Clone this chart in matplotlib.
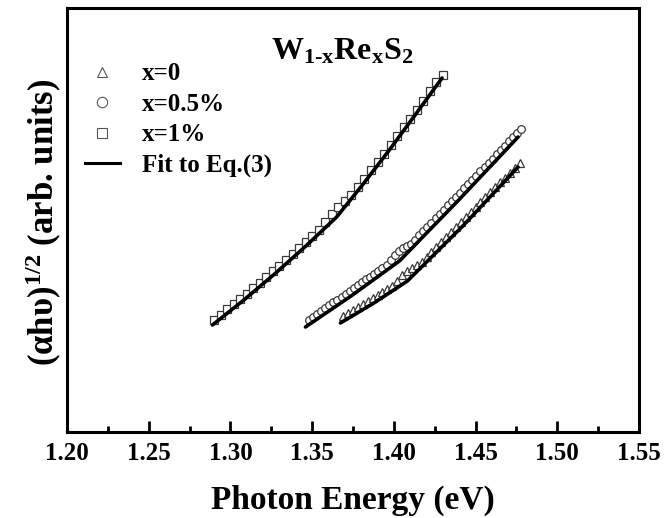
import numpy as np
import matplotlib
matplotlib.use('Agg')
import matplotlib.pyplot as plt
from matplotlib.lines import Line2D
from matplotlib.ticker import MultipleLocator, FormatStrFormatter

plt.rcParams['font.family'] = ['Liberation Serif', 'DejaVu Serif']
plt.rcParams['font.weight'] = 'bold'
plt.rcParams['mathtext.fontset'] = 'custom'
plt.rcParams['mathtext.rm'] = 'Liberation Serif:bold'
plt.rcParams['mathtext.bf'] = 'Liberation Serif:bold'
plt.rcParams['mathtext.it'] = 'Liberation Serif:bold'

# x = 1% (squares)
E_sq = [1.290, 1.294, 1.298, 1.302, 1.306, 1.310, 1.314, 1.318, 1.322, 1.326,
        1.330, 1.334, 1.338, 1.342, 1.346, 1.350, 1.354, 1.358, 1.362, 1.366,
        1.370, 1.374, 1.378, 1.382, 1.386, 1.390, 1.394, 1.398, 1.402, 1.406,
        1.410, 1.414, 1.418, 1.422, 1.426, 1.430]
y_sq = [1.122, 1.174, 1.226, 1.278, 1.331, 1.384, 1.439, 1.494, 1.550, 1.606,
        1.663, 1.720, 1.779, 1.838, 1.897, 1.958, 2.019, 2.101, 2.183, 2.250,
        2.309, 2.370, 2.451, 2.533, 2.616, 2.700, 2.785, 2.871, 2.958, 3.046,
        3.135, 3.224, 3.314, 3.406, 3.499, 3.570]

# x = 0.5% (circles)
E_ci = [1.3480, 1.3505, 1.3530, 1.3555, 1.3580, 1.3605, 1.3630, 1.3655, 1.3680,
        1.3705, 1.3730, 1.3755, 1.3780, 1.3805, 1.3830, 1.3855, 1.3880, 1.3905,
        1.3930, 1.3955, 1.3980, 1.4005, 1.4030, 1.4055, 1.4080, 1.4105, 1.4130,
        1.4155, 1.4180, 1.4205, 1.4230, 1.4255, 1.4280, 1.4305, 1.4330, 1.4355,
        1.4380, 1.4405, 1.4430, 1.4455, 1.4480, 1.4505, 1.4530, 1.4555, 1.4580,
        1.4605, 1.4630, 1.4655, 1.4680, 1.4705, 1.4730, 1.4755, 1.4780]
y_ci = [1.124, 1.153, 1.181, 1.210, 1.239, 1.268, 1.296, 1.325, 1.354,
        1.382, 1.411, 1.440, 1.469, 1.497, 1.526, 1.555, 1.583, 1.612,
        1.641, 1.669, 1.718, 1.767, 1.806, 1.836, 1.859, 1.881, 1.924,
        1.967, 2.009, 2.052, 2.095, 2.138, 2.180, 2.223, 2.266, 2.308,
        2.351, 2.394, 2.436, 2.479, 2.522, 2.565, 2.607, 2.650, 2.693,
        2.735, 2.778, 2.821, 2.863, 2.906, 2.949, 2.991, 3.034]

# x = 0 (triangles)
E_tr = [1.369, 1.372, 1.375, 1.378, 1.381, 1.384, 1.387, 1.390, 1.393, 1.396,
        1.399, 1.402, 1.405, 1.408, 1.411, 1.414, 1.417, 1.420, 1.423, 1.426,
        1.429, 1.432, 1.435, 1.438, 1.441, 1.444, 1.447, 1.450, 1.453, 1.456,
        1.459, 1.462, 1.465, 1.468, 1.471, 1.474, 1.477]
y_tr = [1.157, 1.188, 1.219, 1.250, 1.280, 1.311, 1.342, 1.372, 1.403, 1.434,
        1.465, 1.515, 1.566, 1.607, 1.645, 1.674, 1.704, 1.753, 1.803, 1.852,
        1.902, 1.951, 2.001, 2.050, 2.100, 2.149, 2.199, 2.248, 2.298, 2.347,
        2.397, 2.446, 2.496, 2.545, 2.595, 2.644, 2.694]

# fits to Eq.(3)
E_fit_sq = [1.289, 1.308, 1.327, 1.346, 1.365, 1.381, 1.397, 1.413, 1.4295]
y_fit_sq = [1.07, 1.3175, 1.58, 1.8575, 2.15, 2.475, 2.815, 3.17, 3.54]
E_fit_ci = [1.3459, 1.3747, 1.4034, 1.4397, 1.476]
y_fit_ci = [1.05, 1.37, 1.71, 2.32, 2.95]
E_fit_tr = [1.3673, 1.3878, 1.4083, 1.4422, 1.476]
y_fit_tr = [1.09, 1.29, 1.51, 2.06, 2.65]

fig = plt.figure(figsize=(6.64, 5.18), dpi=100)
ax = fig.add_axes([67/664, 86/518, 572/664, 424/518])

mk = dict(linestyle='none', markerfacecolor='white', markeredgecolor='#3a3a3a',
          markeredgewidth=0.9, markersize=5.5)
ax.plot(E_tr, y_tr, marker='^', **mk)
ax.plot(E_ci, y_ci, marker='o', **mk)
ax.plot(E_sq, y_sq, marker='s', **mk)
for E_fit, y_fit in [(E_fit_sq, y_fit_sq), (E_fit_ci, y_fit_ci), (E_fit_tr, y_fit_tr)]:
    ax.plot(E_fit, y_fit, color='black', linewidth=2.6, solid_capstyle='round')

ax.set_xlim(1.20, 1.55)
ax.set_ylim(0, 4.24)
ax.xaxis.set_major_locator(MultipleLocator(0.05))
ax.xaxis.set_minor_locator(MultipleLocator(0.025))
ax.xaxis.set_major_formatter(FormatStrFormatter('%.2f'))
ax.set_yticks([])
ax.tick_params(axis='x', which='major', direction='in', length=8, width=2,
               labelsize=18, pad=7)
ax.tick_params(axis='x', which='minor', direction='in', length=4, width=2)
for sp in ax.spines.values():
    sp.set_linewidth(2.2)

fig.text(353/664, (518-500)/518, 'Photon Energy (eV)', fontsize=24,
         ha='center', va='center')
fig.text(44/664, (518-222)/518, '(αhυ)$^{1/2}$ (arb. units)', fontsize=25,
         rotation=90, ha='center', va='center')

ax.text((342-67)/572, (432-52)/424,
        r'W$_{\text{1-x}}$Re$_{\text{x}}$S$_{\text{2}}$', fontsize=23,
        transform=ax.transAxes, ha='center', va='center')

lmk = dict(linestyle='none', markerfacecolor='white', markeredgecolor='#555555',
           markeredgewidth=0.8, markersize=7.5)
handles = [Line2D([], [], marker='^', **lmk),
           Line2D([], [], marker='o', **lmk),
           Line2D([], [], marker='s', **lmk),
           Line2D([], [], color='black', linewidth=2.2)]
labels = ['x=0', 'x=0.5%', 'x=1%', 'Fit to Eq.(3)']
ax.legend(handles, labels, loc='upper left', bbox_to_anchor=(0.031, 0.872),
          frameon=False, fontsize=18, handlelength=1.4, handletextpad=0.9,
          labelspacing=0.3, borderpad=0, borderaxespad=0)

fig.savefig('out.png', dpi=100)
